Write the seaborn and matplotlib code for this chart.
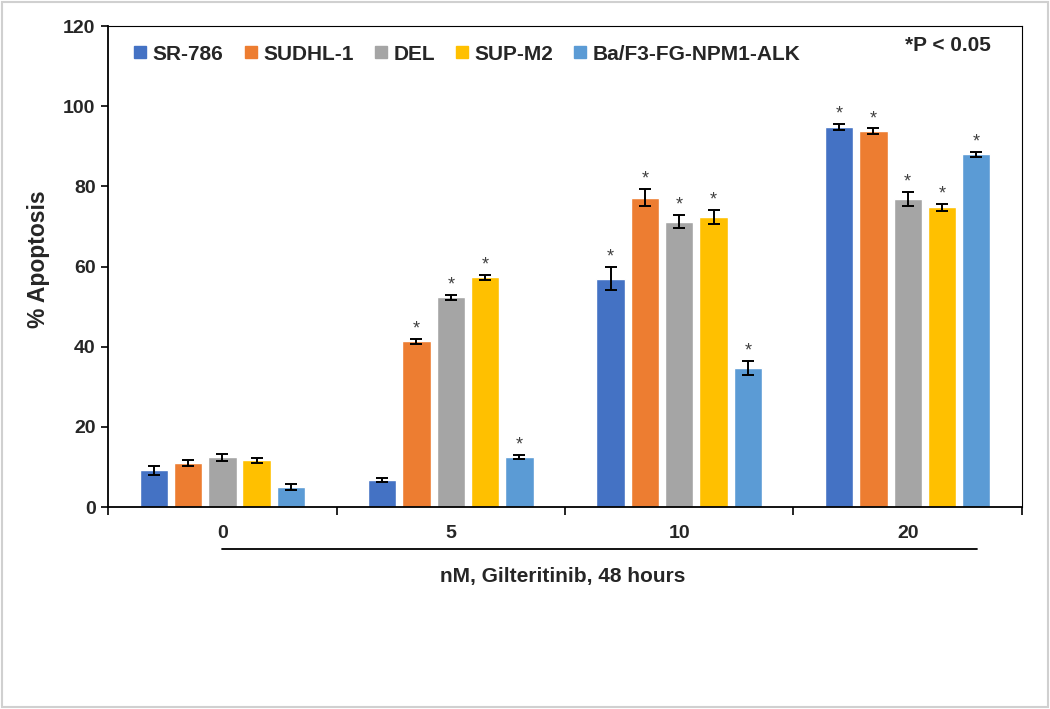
import numpy as np
import pandas as pd
import matplotlib
matplotlib.use("Agg")
import matplotlib.pyplot as plt
from matplotlib.patches import Rectangle
from matplotlib.lines import Line2D
import seaborn as sns

# Data
doses = ["0", "5", "10", "20"]
cell_lines = ["SR-786", "SUDHL-1", "DEL", "SUP-M2", "Ba/F3-FG-NPM1-ALK"]
colors = ["#4472C4", "#ED7D31", "#A5A5A5", "#FFC000", "#5B9BD5"]

sr786 = [9.2, 6.7, 57.0, 94.8]
sudhl1 = [11.0, 41.3, 77.2, 93.8]
del_ = [12.4, 52.3, 71.2, 76.9]
supm2 = [11.7, 57.3, 72.4, 74.8]
baf3 = [5.0, 12.5, 34.7, 88.0]

sr786_err = [1.1, 0.5, 2.9, 0.8]
sudhl1_err = [0.7, 0.7, 2.1, 0.7]
del_err = [0.9, 0.6, 1.7, 1.7]
supm2_err = [0.6, 0.7, 1.8, 0.9]
baf3_err = [0.7, 0.5, 1.8, 0.6]

sr786_sig = [False, False, True, True]
sudhl1_sig = [False, True, True, True]
del_sig = [False, True, True, True]
supm2_sig = [False, True, True, True]
baf3_sig = [False, True, True, True]

values = [sr786, sudhl1, del_, supm2, baf3]
errors = [sr786_err, sudhl1_err, del_err, supm2_err, baf3_err]
signif = [sr786_sig, sudhl1_sig, del_sig, supm2_sig, baf3_sig]

rows = []
for line, vals, errs, sig in zip(cell_lines, values, errors, signif):
    for d, v, e, s in zip(doses, vals, errs, sig):
        rows.append({"dose": d, "line": line, "value": v, "err": e, "sig": s})
df = pd.DataFrame(rows)

sns.set_theme(style="white")
plt.rcParams["font.family"] = ["Liberation Sans", "DejaVu Sans"]

fig = plt.figure(figsize=(10.5, 7.09), dpi=100)
ax = fig.add_axes([0.1029, 0.2849, 0.8704, 0.6784])

sns.barplot(data=df, x="dose", y="value", hue="line", order=doses,
            hue_order=cell_lines, palette=colors, errorbar=None,
            width=0.75, gap=0.17, saturation=1, ax=ax, legend=False)

# error bars and significance stars, positioned from the drawn bars
bars = [p for p in ax.patches if isinstance(p, Rectangle) and p.get_height() > 0]
for bar in bars:
    xc = bar.get_x() + bar.get_width() / 2
    h = bar.get_height()
    match = df[np.isclose(df["value"], h)].iloc[0]
    ax.errorbar(xc, h, yerr=match["err"], fmt="none", ecolor="black",
                elinewidth=1.4, capsize=4.5, capthick=1.4, zorder=5)
    if match["sig"]:
        ax.text(xc, h + match["err"] + 0.3, "*", ha="center", va="bottom",
                fontsize=13, color="#404040")

ax.set_ylim(0, 120)
ax.set_xlim(-0.5, 3.5)
ax.set_yticks(range(0, 121, 20))
ax.set_xticks(range(len(doses)))
ax.set_xticklabels(doses)
ax.set_xticks([-0.5, 0.5, 1.5, 2.5, 3.5], minor=True)
ax.tick_params(axis="x", which="major", length=0, pad=13, labelsize=14)
ax.tick_params(axis="x", which="minor", length=6, width=1.2, direction="out",
               color="black", bottom=True)
ax.tick_params(axis="y", length=5, width=1.2, direction="out", color="black",
               left=True, labelsize=14, pad=4)
for lab in ax.get_xticklabels() + ax.get_yticklabels():
    lab.set_fontweight("bold")

for side in ["left", "bottom", "top", "right"]:
    ax.spines[side].set_visible(True)
    ax.spines[side].set_color("black")
ax.spines["left"].set_linewidth(1.3)
ax.spines["bottom"].set_linewidth(1.3)
ax.spines["top"].set_linewidth(0.8)
ax.spines["right"].set_linewidth(0.8)

ax.set_xlabel("")
ax.set_ylabel("% Apoptosis", fontsize=16.5, fontweight="bold")
ax.yaxis.set_label_coords(-0.063, 0.515)

# underline and treatment label
ax.plot([0.1247, 0.9508], [-0.0873, -0.0873], color="black", lw=1.3,
        transform=ax.transAxes, clip_on=False)
ax.text(0.497, -0.1435, "nM, Gilteritinib, 48 hours", transform=ax.transAxes,
        ha="center", va="center", fontsize=15, fontweight="bold")

# legend
handles = [Line2D([], [], marker="s", linestyle="none", markersize=8,
                  markerfacecolor=c, markeredgecolor=c) for c in colors]
ax.legend(handles, cell_lines, loc="upper left", bbox_to_anchor=(0.008, 1.0),
          ncol=5, frameon=False, handlelength=0.6, handletextpad=0.3,
          columnspacing=1.0, prop={"weight": "bold", "size": 15})

ax.text(0.966, 0.96, "*P < 0.05", transform=ax.transAxes, ha="right",
        va="center", fontsize=15, fontweight="bold")

fig.patches.append(Rectangle((0.002, 0.003), 0.996, 0.994, transform=fig.transFigure,
                             fill=False, edgecolor="#D0D0D0", lw=1.5))

fig.savefig("out.png", dpi=100)
